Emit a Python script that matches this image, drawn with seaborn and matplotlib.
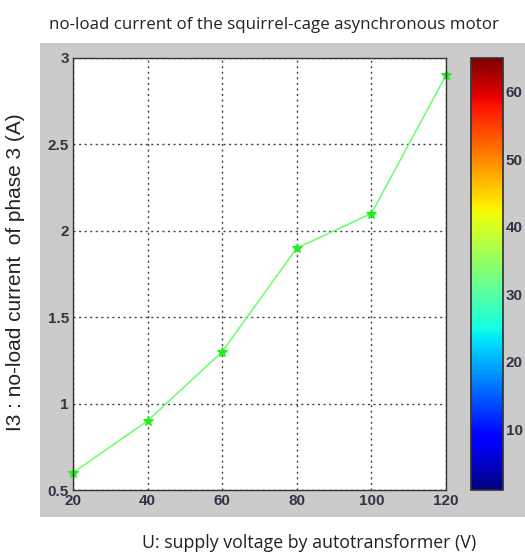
import numpy as np
import pandas as pd
import matplotlib
matplotlib.use("Agg")
import matplotlib.pyplot as plt
import seaborn as sns
from matplotlib.patches import Rectangle
import matplotlib as mpl

# Data
voltage = [20, 40, 60, 80, 100, 120]
current = [0.6, 0.9, 1.3, 1.9, 2.1, 2.9]
x_ticks = [20, 40, 60, 80, 100, 120]
y_ticks = [0.5, 1, 1.5, 2, 2.5, 3]
y_tick_labels = ["0.5", "1", "1.5", "2", "2.5", "3"]
cbar_ticks = [10, 20, 30, 40, 50, 60]
cbar_range = [1, 65]

title = "no-load current of the squirrel-cage asynchronous motor"
xlabel = "U: supply voltage by autotransformer (V)"
ylabel = "I3 : no-load current  of phase 3 (A)"

sns.set_theme(style="white")
plt.rcParams['font.family'] = ['DejaVu Sans']

fig = plt.figure(figsize=(5.25, 5.55), dpi=100)
fig.patch.set_facecolor("white")

# grey panel
bg = Rectangle((0.0762, 0.0685), 0.9238, 0.854, transform=fig.transFigure,
               facecolor="#cbcbcb", edgecolor="none", zorder=-10)
fig.add_artist(bg)

ax = fig.add_axes([0.139, 0.1171, 0.7105, 0.7784])
ax.set_zorder(1)
ax.set_facecolor("white")
df = pd.DataFrame({"U": voltage, "I": current})
sns.lineplot(data=df, x="U", y="I", ax=ax, color="#66ff66", linewidth=1.1,
             marker="*", markersize=7, markerfacecolor="#22ee22",
             markeredgecolor="#22ee22", clip_on=False)
ax.set_xlim(20, 120)
ax.set_ylim(0.5, 3)
ax.set_xticks(x_ticks)
ax.set_yticks(y_ticks)
ax.set_yticklabels(y_tick_labels)
ax.set_xlabel("")
ax.set_ylabel("")
ax.grid(True, linestyle=(0, (1.5, 2.5)), color="#444444", linewidth=1.0)
for s in ax.spines.values():
    s.set_color("#333333")
    s.set_linewidth(1.0)
ax.tick_params(direction="in", length=4, color="#333333", labelcolor="#333344",
               top=False, right=False, pad=3)
for lab in ax.get_xticklabels() + ax.get_yticklabels():
    lab.set_fontfamily(["Liberation Sans Narrow", "Liberation Sans"])
    lab.set_fontweight("bold")
    lab.set_fontsize(11)

# colorbar
cax = fig.add_axes([0.897, 0.1171, 0.061, 0.7784])
cax.set_zorder(1)
norm = mpl.colors.Normalize(vmin=cbar_range[0], vmax=cbar_range[1])
cb = fig.colorbar(mpl.cm.ScalarMappable(norm=norm, cmap="jet"), cax=cax)
cb.set_ticks(cbar_ticks)
cb.outline.set_edgecolor("#333333")
cax.tick_params(direction="in", length=4, color="#222222", labelcolor="#333344",
                left=True, right=True, pad=2)
for lab in cax.get_yticklabels():
    lab.set_fontfamily(["Liberation Sans Narrow", "Liberation Sans"])
    lab.set_fontweight("bold")
    lab.set_fontsize(11)

fig.text(0.522, 0.955, title, ha="center", va="center", fontsize=12.2,
         family=["Open Sans", "DejaVu Sans"], color="#222222")
fig.text(0.589, 0.022, xlabel, ha="center", va="center", fontsize=12.8,
         family=["Open Sans", "DejaVu Sans"], color="#222222")
fig.text(0.03, 0.51, ylabel, ha="center", va="center", rotation=90, fontsize=15,
         family=["Liberation Sans", "DejaVu Sans"], color="#222222")

fig.savefig("out.png", dpi=100)
